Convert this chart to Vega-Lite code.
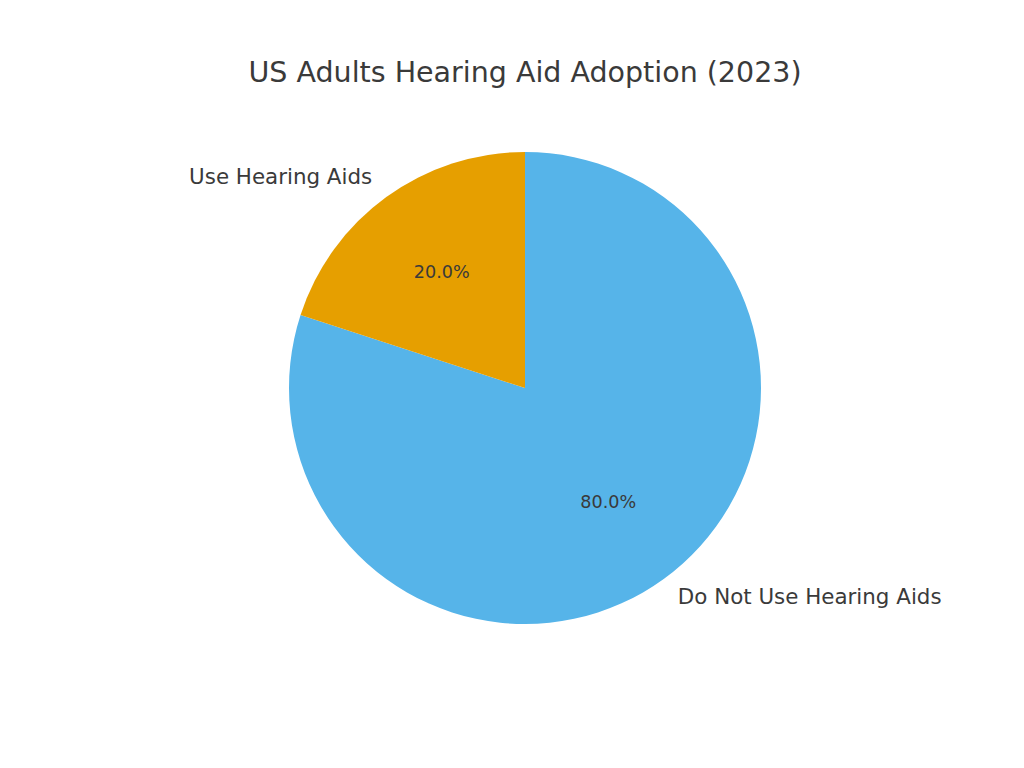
{
  "$schema": "https://vega.github.io/schema/vega-lite/v6.json",
  "description": "US adults hearing aid adoption pie",
  "autosize": {"type": "none"},
  "padding": {"left": 26, "top": 100, "right": 0, "bottom": 0},
  "width": 998,
  "height": 576,
  "background": "white",
  "title": {
    "text": "US Adults Hearing Aid Adoption (2023)",
    "font": "DejaVu Sans",
    "fontSize": 28.5,
    "fontWeight": "normal",
    "color": "#3a3a3a",
    "anchor": "middle",
    "offset": 13
  },
  "data": {
    "values": [
      {"group": "Do Not Use Hearing Aids", "share": 80.0, "order": 1},
      {"group": "Use Hearing Aids", "share": 20.0, "order": 2}
    ]
  },
  "transform": [
    {"calculate": "format(datum.share, '.1f') + '%'", "as": "pct"}
  ],
  "encoding": {
    "theta": {"field": "share", "type": "quantitative", "stack": true},
    "order": {"field": "order", "type": "quantitative"}
  },
  "layer": [
    {
      "mark": {"type": "arc", "radius": 236},
      "encoding": {
        "color": {
          "field": "group",
          "type": "nominal",
          "scale": {"domain": ["Do Not Use Hearing Aids", "Use Hearing Aids"], "range": ["#56B4E9", "#E69F00"]},
          "legend": null
        }
      }
    },
    {
      "mark": {"type": "text", "radius": 141.6, "font": "DejaVu Sans", "fontSize": 17.6, "color": "#3a3a3a", "baseline": "middle", "align": "center"},
      "encoding": {"text": {"field": "pct"}}
    },
    {
      "mark": {"type": "text", "radius": 260, "font": "DejaVu Sans", "fontSize": 21.4, "color": "#3a3a3a", "baseline": "middle", "align": "right"},
      "encoding": {
        "text": {"condition": {"test": "datum.group === 'Use Hearing Aids'", "field": "group"}, "value": ""}
      }
    },
    {
      "mark": {"type": "text", "radius": 260, "font": "DejaVu Sans", "fontSize": 21.4, "color": "#3a3a3a", "baseline": "middle", "align": "left"},
      "encoding": {
        "text": {"condition": {"test": "datum.group === 'Do Not Use Hearing Aids'", "field": "group"}, "value": ""}
      }
    }
  ]
}
